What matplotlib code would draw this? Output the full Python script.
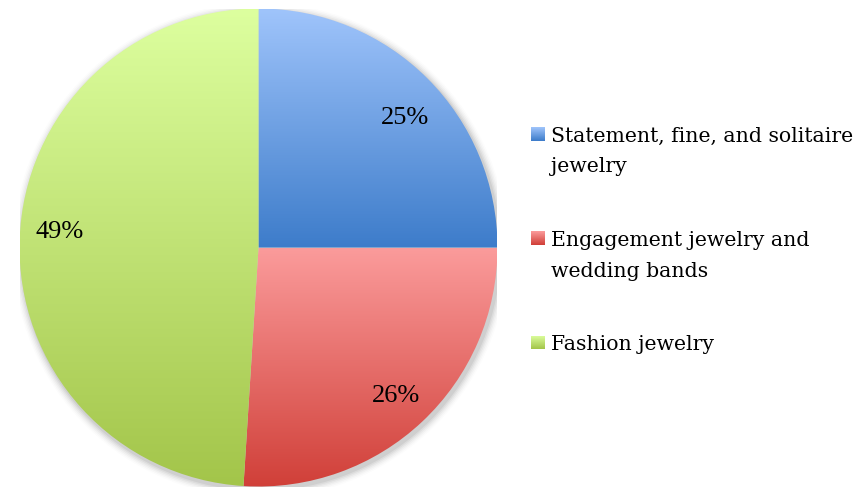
import numpy as np
import matplotlib
matplotlib.use("Agg")
import matplotlib.pyplot as plt
from matplotlib.patches import Circle
from matplotlib.colors import LinearSegmentedColormap

categories = ["Statement, fine, and solitaire\njewelry",
              "Engagement jewelry and\nwedding bands",
              "Fashion jewelry"]
shares = [25, 26, 49]
pct_labels = ["25%", "26%", "49%"]
# (top colour, bottom colour) of each slice's vertical gradient
gradients = [("#9fc4fb", "#3d7cca"),
             ("#fb9b9b", "#d03f38"),
             ("#ddff9f", "#a3c54a")]

FONT = "Liberation Serif"
LEG_FONT = "DejaVu Serif"
W, H = 859, 489
fig = plt.figure(figsize=(W / 100, H / 100), dpi=100)

cx, cy, R = 258.5, 248.5, 239.0
ax = fig.add_axes([(cx - R) / W, (H - cy - R) / H, 2 * R / W, 2 * R / H])
ax.set_aspect("equal")
ax.axis("off")

# soft drop shadow behind the pie
for i, a in enumerate(np.linspace(0.05, 0.012, 6)):
    ax.add_patch(Circle((0.008, -0.012), 1.0 + 0.006 * (i + 1),
                        color="black", alpha=a, lw=0, zorder=0))

wedges, _ = ax.pie(shares, startangle=90, counterclock=False, radius=1.0,
                   colors=["none"] * 3, wedgeprops=dict(lw=0))

for w, (top, bottom) in zip(wedges, gradients):
    w.set_zorder(1)
    verts = w.get_path().vertices
    y0, y1 = verts[:, 1].min(), verts[:, 1].max()
    x0, x1 = verts[:, 0].min(), verts[:, 0].max()
    cmap = LinearSegmentedColormap.from_list("g", [bottom, top])
    grad = np.linspace(0, 1, 256).reshape(-1, 1)
    im = ax.imshow(grad, cmap=cmap, origin="lower", aspect="auto",
                   extent=(x0, x1, y0, y1), zorder=2, interpolation="bilinear")
    im.set_clip_path(w)

ax.set_xlim(-1, 1)
ax.set_ylim(-1, 1)

# percentage labels near each slice's middle angle, nudged in points
label_nudge = [(3.5, -8.5), (0, -1), (1.5, 7)]
for w, lab, (dx, dy) in zip(wedges, pct_labels, label_nudge):
    ang = np.deg2rad((w.theta1 + w.theta2) / 2)
    r = 0.84
    ax.annotate(lab, (r * np.cos(ang), r * np.sin(ang)), xytext=(dx, dy),
                textcoords="offset points", ha="center", va="center",
                fontsize=19, family=FONT, color="black", zorder=5)

# legend drawn on the figure; font size chosen so the widest line spans 302 px
renderer = fig.canvas.get_renderer()
probe = fig.text(0, 0, categories[0].split("\n")[0], fontsize=20, family=LEG_FONT)
probe_w = probe.get_window_extent(renderer).width
probe.remove()
leg_size = 20 * 302 / probe_w

legend_baselines = [141.5, 246, 350.5]
line_gap = 31
for (top, bottom), label, base in zip(gradients, categories, legend_baselines):
    sq = 14
    grad = np.linspace(0, 1, 32).reshape(-1, 1)
    cmap = LinearSegmentedColormap.from_list("g", [bottom, top])
    lax = fig.add_axes([531 / W, (H - base) / H, sq / W, sq / H])
    lax.imshow(grad, cmap=cmap, origin="lower", aspect="auto")
    lax.axis("off")
    for k, line in enumerate(label.split("\n")):
        fig.text(551 / W, (H - base - k * line_gap) / H, line, ha="left",
                 va="baseline", fontsize=leg_size, family=LEG_FONT, color="black")

fig.savefig("out.png", dpi=100)
